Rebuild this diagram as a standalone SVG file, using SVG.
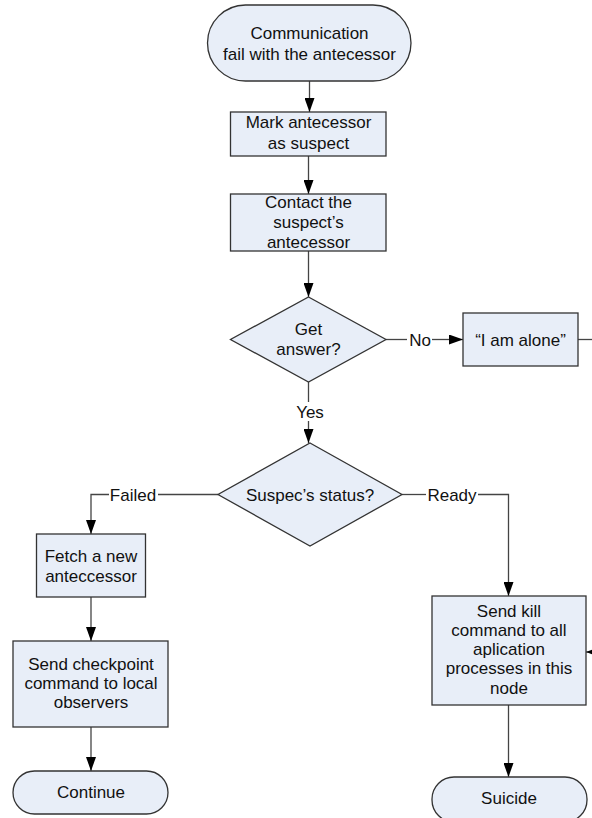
<svg xmlns="http://www.w3.org/2000/svg" width="592" height="818" viewBox="0 0 592 818">
  <style>
    .node { fill: #E8EEF8; stroke: #333333; stroke-width: 1.3; }
    .edge { fill: none; stroke: #444444; stroke-width: 1.3; }
    text { font-family: "Liberation Sans", Arial, sans-serif; font-size: 17px; fill: #111111; text-anchor: middle; }
    .lbl { text-anchor: middle; }
  </style>
  <defs>
    <marker id="arrow" markerWidth="14" markerHeight="10" refX="14" refY="5" orient="auto" markerUnits="userSpaceOnUse">
      <path d="M0,0 L14,5 L0,10 Z" fill="#000000"/>
    </marker>
  </defs>
  <rect width="592" height="818" fill="#FFFFFF"/>

  <g id="connectors">
    <line class="edge" x1="309.5" y1="81" x2="309.5" y2="112" marker-end="url(#arrow)"/>
    <line class="edge" x1="308.5" y1="156" x2="308.5" y2="194" marker-end="url(#arrow)"/>
    <line class="edge" x1="308.5" y1="251" x2="308.5" y2="297" marker-end="url(#arrow)"/>
    <!-- No branch -->
    <line class="edge" x1="386" y1="339.5" x2="407" y2="339.5"/>
    <line class="edge" x1="432" y1="339.5" x2="463" y2="339.5" marker-end="url(#arrow)"/>
    <line class="edge" x1="578" y1="339.5" x2="592" y2="339.5"/>
    <!-- Yes branch -->
    <line class="edge" x1="308.5" y1="382" x2="308.5" y2="402"/>
    <line class="edge" x1="308.5" y1="421" x2="308.5" y2="443" marker-end="url(#arrow)"/>
    <!-- Failed branch -->
    <polyline class="edge" points="218,494.5 158,494.5"/>
    <polyline class="edge" points="109,494.5 91,494.5 91,534" marker-end="url(#arrow)"/>
    <!-- Ready branch -->
    <polyline class="edge" points="402,494.5 426,494.5"/>
    <polyline class="edge" points="478,494.5 508.5,494.5 508.5,596" marker-end="url(#arrow)"/>
    <!-- left column -->
    <line class="edge" x1="91" y1="597" x2="91" y2="641" marker-end="url(#arrow)"/>
    <line class="edge" x1="91" y1="727" x2="91" y2="771" marker-end="url(#arrow)"/>
    <!-- right column -->
    <line class="edge" x1="508.5" y1="705" x2="508.5" y2="777" marker-end="url(#arrow)"/>
    <!-- return from the alone branch -->
    <line class="edge" x1="600" y1="652" x2="586" y2="652" marker-end="url(#arrow)"/>
    <!-- edge labels -->
    <text x="420" y="345.5">No</text>
    <text x="310" y="417.5">Yes</text>
    <text x="133" y="500.5">Failed</text>
    <text x="452" y="500.5">Ready</text>
  </g>

  <g id="start">
    <rect class="node" x="207.5" y="5" width="203.5" height="76" rx="38" ry="38"/>
    <text x="309.5" y="39">Communication</text>
    <text x="309.5" y="60">fail with the antecessor</text>
  </g>

  <g id="mark-suspect">
    <rect class="node" x="230.5" y="112" width="155.5" height="44"/>
    <text x="308.5" y="128">Mark antecessor</text>
    <text x="308.5" y="149">as suspect</text>
  </g>

  <g id="contact">
    <rect class="node" x="230.5" y="194" width="155.5" height="57"/>
    <text x="308.5" y="208">Contact the</text>
    <text x="308.5" y="228">suspect’s</text>
    <text x="308.5" y="248">antecessor</text>
  </g>

  <g id="get-answer">
    <polygon class="node" points="308.5,297 386,339.5 308.5,382 230.5,339.5"/>
    <text x="308.5" y="335">Get</text>
    <text x="308.5" y="355">answer?</text>
  </g>

  <g id="alone">
    <rect class="node" x="463" y="313" width="115" height="53"/>
    <text x="520.5" y="345.5">“I am alone”</text>
  </g>

  <g id="status">
    <polygon class="node" points="310,443 402,494.5 310,546 218,494.5"/>
    <text x="310" y="500.5">Suspec’s status?</text>
  </g>

  <g id="fetch">
    <rect class="node" x="36.5" y="534" width="109" height="63"/>
    <text x="91" y="562">Fetch a new</text>
    <text x="91" y="582">anteccessor</text>
  </g>

  <g id="checkpoint">
    <rect class="node" x="13" y="641" width="155" height="86"/>
    <text x="91" y="670">Send checkpoint</text>
    <text x="91" y="689">command to local</text>
    <text x="91" y="708">observers</text>
  </g>

  <g id="continue">
    <rect class="node" x="13" y="771" width="155" height="43" rx="21.5" ry="21.5"/>
    <text x="91" y="798">Continue</text>
  </g>

  <g id="kill">
    <rect class="node" x="432" y="596" width="154" height="109"/>
    <text x="509" y="617">Send kill</text>
    <text x="509" y="636">command to all</text>
    <text x="509" y="655">aplication</text>
    <text x="509" y="674">processes in this</text>
    <text x="509" y="694">node</text>
  </g>

  <g id="suicide">
    <rect class="node" x="432" y="777" width="155" height="45" rx="22" ry="22"/>
    <text x="509" y="804">Suicide</text>
  </g>
</svg>
